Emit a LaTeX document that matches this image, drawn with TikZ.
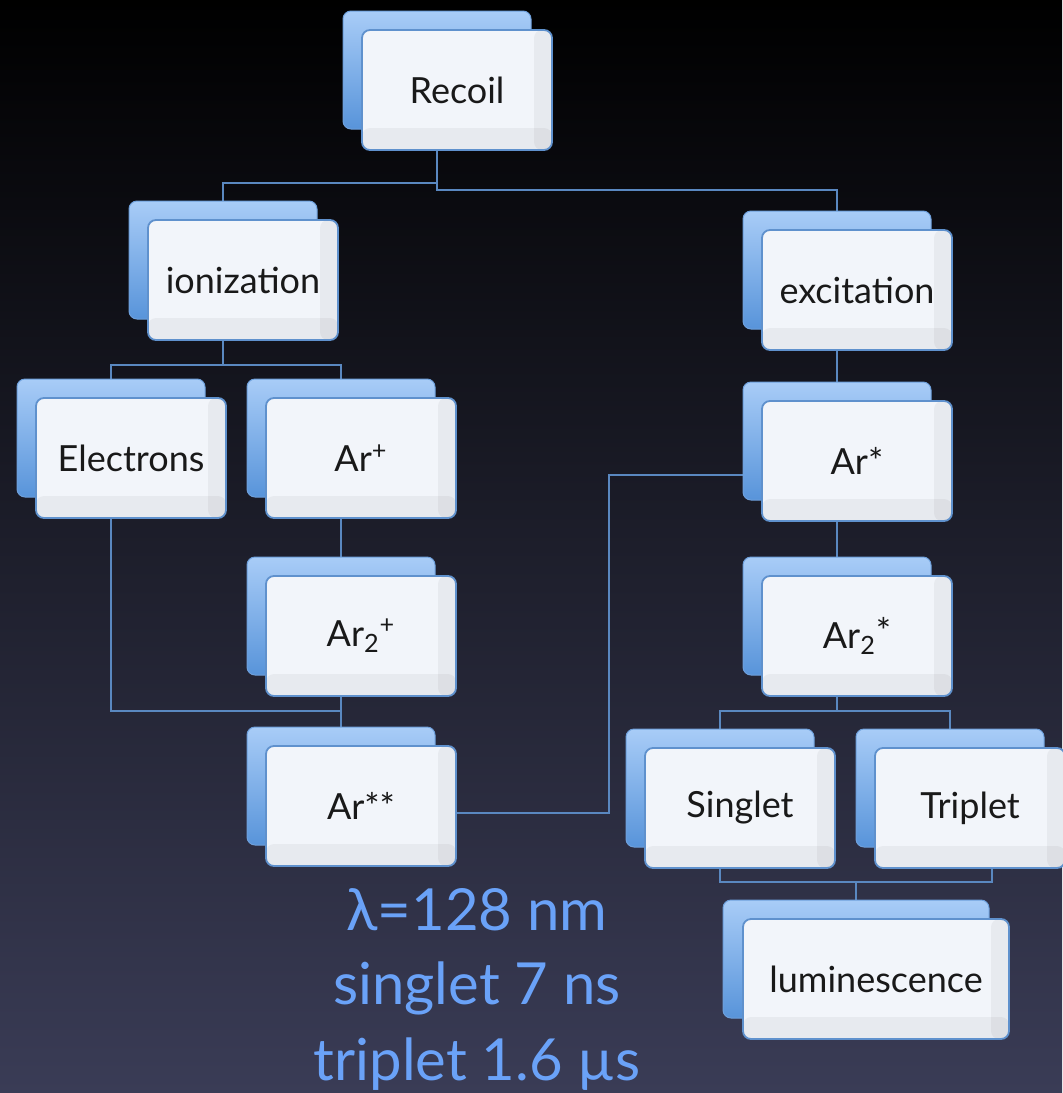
\documentclass[tikz,border=0pt]{standalone}
\usepackage{fontspec}
\setmainfont{Lato}
\usetikzlibrary{calc}
\pgfdeclarelayer{bgl}
\pgfdeclarelayer{edges}
\pgfsetlayers{bgl,edges,main}
\definecolor{bbtop}{RGB}{168,204,247}
\definecolor{bbbot}{RGB}{88,148,218}
\definecolor{bbline}{RGB}{110,160,220}
\definecolor{fbfill}{RGB}{242,245,250}
\definecolor{fbline}{RGB}{95,145,205}
\definecolor{connc}{RGB}{90,136,192}
\definecolor{txt}{RGB}{25,25,25}
\definecolor{bluetxt}{RGB}{106,162,248}
\definecolor{bgtop}{RGB}{0,0,0}
\definecolor{bgmid}{RGB}{20,20,42}
\definecolor{bgbot}{RGB}{58,60,86}
\tikzset{
  backbox/.style={rounded corners=4pt, draw=bbline, line width=0.5pt,
    top color=bbtop, bottom color=bbbot, minimum width=94pt, minimum height=59pt, inner sep=0pt},
  frontbox/.style={rounded corners=4pt, draw=fbline, line width=0.9pt, fill=fbfill,
    minimum width=95pt, minimum height=60pt, inner sep=0pt,
    font=\fontsize{18}{20}\selectfont, text=txt,
    path picture={
      \fill[black, opacity=0.045] ([xshift=-9pt]path picture bounding box.north east) rectangle (path picture bounding box.south east);
      \fill[black, opacity=0.045] (path picture bounding box.south west) rectangle ([yshift=11pt]path picture bounding box.south east);
    }},
  conn/.style={draw=connc, line width=1pt},
  note/.style={text=bluetxt, font=\fontsize{29}{32}\selectfont, anchor=base, inner sep=0pt}
}
\newcommand{\dbox}[5][]{%
  \node[backbox,#1] (#2B) at ({#3-20},{#4-20}) {};
  \node[frontbox,#1] (#2) at (#3,#4) {#5};}
\begin{document}
\begin{tikzpicture}[x={(0.5pt,0)}, y={(0,-0.5pt)}]
\useasboundingbox (0,0) rectangle (1062,1093);
\begin{pgfonlayer}{bgl}
  \shade[top color=bgtop, middle color=bgmid, bottom color=bgbot] (0,0) rectangle (1062,1093);
\end{pgfonlayer}
\dbox{recoil}{457}{90}{Recoil}
\dbox{ion}{243}{280}{ionization}
\dbox{exc}{857}{290}{excitation}
\dbox{elec}{131}{458}{Electrons}
\dbox{arp}{361}{458}{Ar\textsuperscript{+}}
\dbox{ar2p}{361}{636}{Ar\textsubscript{2}\textsuperscript{+}}
\dbox{arss}{361}{806}{Ar**}
\dbox{arstar}{857}{461}{Ar*}
\dbox{ar2s}{857}{636}{Ar\textsubscript{2}\raisebox{0.1em}{*}}
\dbox{sing}{740}{808}{Singlet}
\dbox{trip}{970}{808}{Triplet}
\dbox[minimum width=133pt]{lumin}{876}{979}{luminescence}
\node[note] (l1) at (477,930) {λ=128 nm};
\node[note] (l2) at (477,1004) {singlet 7 ns};
\node[note] (l3) at (477,1080) {triplet 1.6 µs};
\begin{pgfonlayer}{edges}
  \draw[conn] (recoilB.south |- recoil.south) -- ++(0,32) -| (ionB.north);
  \draw[conn] (recoilB.south |- recoil.south) -- ++(0,39) -| (excB.north);
  \draw[conn] (ionB.south |- ion.south) -- ++(0,24) -| (elecB.north);
  \draw[conn] (ionB.south |- ion.south) -- ++(0,24) -| (arpB.north);
  \draw[conn] (elecB.south |- elec.south) |- ($(ar2pB.south |- ar2p.south)+(0,14)$);
  \draw[conn] (arpB.south |- arp.south) -- (ar2pB.north);
  \draw[conn] (ar2pB.south |- ar2p.south) -- (arssB.north);
  \draw[conn] ($(arss.east)+(0,7)$) -- ++(152,0) |- ($(arstarB.west)+(0,34)$);
  \draw[conn] (excB.south |- exc.south) -- (arstarB.north);
  \draw[conn] (arstarB.south |- arstar.south) -- (ar2sB.north);
  \draw[conn] (ar2sB.south |- ar2s.south) -- ++(0,14) -| (singB.north);
  \draw[conn] (ar2sB.south |- ar2s.south) -- ++(0,14) -| (tripB.north);
  \draw[conn] (singB.south |- sing.south) -- ++(0,13) -| ($(trip.south)+(22,0)$);
  \draw[conn] ($(singB.south |- sing.south)+(0,13)$) -| (luminB.north);
\end{pgfonlayer}
\end{tikzpicture}
\end{document}
